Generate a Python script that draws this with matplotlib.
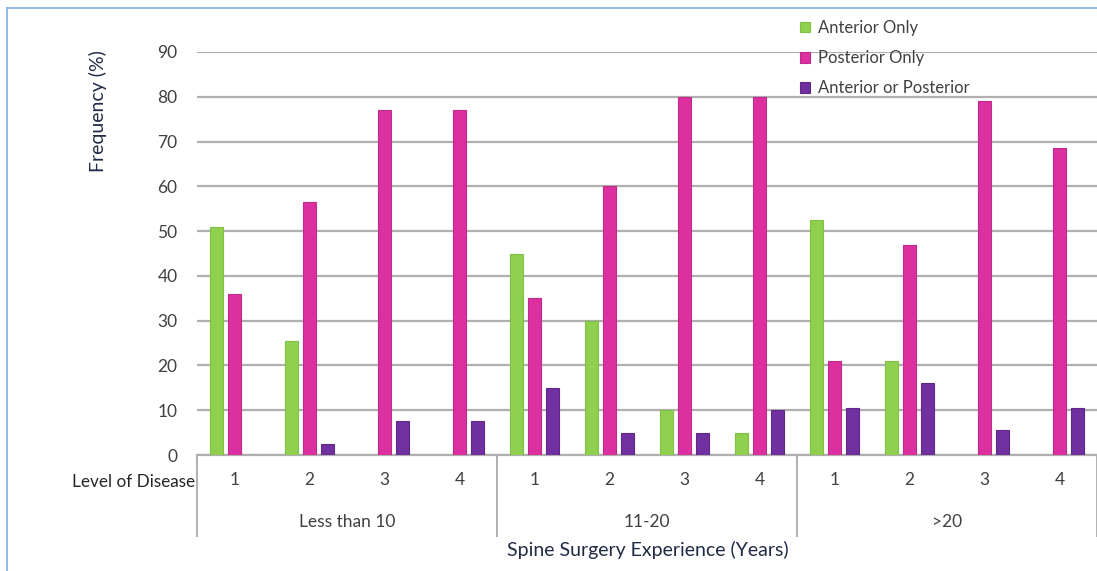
import numpy as np
import matplotlib.pyplot as plt
from matplotlib.lines import Line2D

# data
groups = ["Less than 10", "11-20", ">20"]
levels = ["1", "2", "3", "4"]
anterior = [51, 25.5, 0, 0, 45, 30, 10, 5, 52.5, 21, 0, 0]
posterior = [36, 56.5, 77, 77, 35, 60, 80, 80, 21, 47, 79, 68.5]
either = [0, 2.5, 7.5, 7.5, 15, 5, 5, 10, 10.5, 16, 5.5, 10.5]
series_names = ["Anterior Only", "Posterior Only", "Anterior or Posterior"]
colors = ["#8fd14f", "#dd30a0", "#7030a0"]
edges = ["#7fbf45", "#c02a8a", "#5e2888"]

plt.rcParams["font.family"] = ["Lato", "DejaVu Sans"]

fig = plt.figure(figsize=(10.97, 5.71), dpi=100)
ax = fig.add_axes([197 / 1097, 1 - 455 / 571, 900 / 1097, (455 - 52) / 571])

x = np.arange(len(anterior))
w = 0.175
off = 0.235
for i, vals in enumerate([anterior, posterior, either]):
    ax.bar(x + (i - 1) * off, vals, width=w, color=colors[i],
           edgecolor=edges[i], linewidth=0.8, label=series_names[i], zorder=3)

ax.set_xlim(-0.5, len(anterior) - 0.5)
ax.set_ylim(0, 90)
ax.set_yticks(range(0, 91, 10))
ax.tick_params(axis="y", length=0, pad=14, labelsize=12.5, labelcolor="#404040")
ax.grid(axis="y", color="#b0b0b0", linewidth=1.6, zorder=0)
for s in ["top", "right", "left"]:
    ax.spines[s].set_visible(False)
ax.spines["bottom"].set_color("#b0b0b0")
ax.spines["bottom"].set_linewidth(1.6)

# bottom category levels
ax.set_xticks(x)
ax.set_xticklabels(levels * 3)
ax.tick_params(axis="x", length=0, pad=12, labelsize=12.5, labelcolor="#404040")
trans = ax.get_xaxis_transform()
for k in range(4):
    ax.add_line(Line2D([k * 4 - 0.5] * 2, [0, -0.2], transform=trans,
                       color="#b0b0b0", linewidth=1.4, clip_on=False))
for g, name in enumerate(groups):
    ax.text(g * 4 + 1.5, -0.166, name, transform=trans, ha="center", va="center",
            fontsize=12.5, color="#404040")
ax.text(-0.53, -0.066, "Level of Disease", transform=trans, ha="right",
        va="center", fontsize=12.3, color="#262626")

fig.text(648 / 1097, 1 - 550 / 571, "Spine Surgery Experience (Years)",
         ha="center", va="center", fontsize=14, color="#1f2a44")
fig.text(98 / 1097, 1 - 111 / 571, "Frequency (%)", rotation=90,
         ha="center", va="center", fontsize=14, color="#1f2a44")

ax.legend(loc="upper left", bbox_to_anchor=(785 / 1097, 1 - 5 / 571),
          bbox_transform=fig.transFigure, frameon=False, fontsize=12,
          handlelength=0.6, handleheight=0.6, handletextpad=0.5,
          labelspacing=0.85, labelcolor="#404040")

# light blue frame of the screenshot
fig.add_artist(Line2D([7 / 1097, 7 / 1097], [0, 1 - 8 / 571],
                      transform=fig.transFigure, color="#7fb2e5", linewidth=1.2))
fig.add_artist(Line2D([7 / 1097, 1], [1 - 8 / 571] * 2,
                      transform=fig.transFigure, color="#7fb2e5", linewidth=1.2))

fig.savefig("out.png", dpi=100)
